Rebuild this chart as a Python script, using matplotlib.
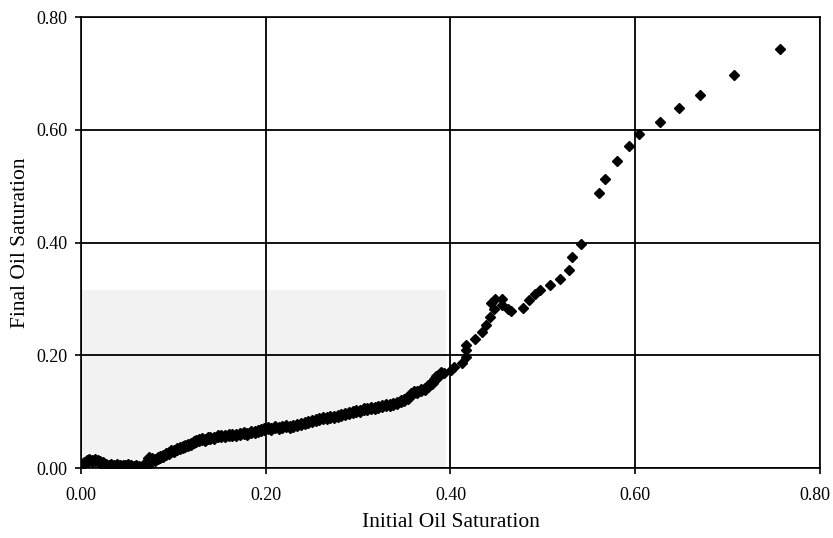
import numpy as np
import matplotlib
matplotlib.use("Agg")
import matplotlib.pyplot as plt
import matplotlib.transforms as mtransforms

# dense part of the curve (Soi < 0.4)
x_dense = [0.003, 0.006, 0.009, 0.012, 0.015, 0.018, 0.021, 0.024, 0.027, 0.030,
           0.033, 0.036, 0.039, 0.042, 0.045, 0.048, 0.051, 0.054, 0.057, 0.060,
           0.063, 0.066, 0.069, 0.072, 0.073, 0.074, 0.077, 0.080, 0.083, 0.086,
           0.089, 0.092, 0.095, 0.098, 0.101, 0.104, 0.107, 0.110, 0.113, 0.116,
           0.119, 0.122, 0.125, 0.128, 0.131, 0.134, 0.137, 0.140, 0.144, 0.148,
           0.152, 0.156, 0.160, 0.164, 0.168, 0.172, 0.176, 0.180, 0.184, 0.188,
           0.192, 0.195, 0.198, 0.202, 0.206, 0.210, 0.214, 0.218, 0.222, 0.226,
           0.230, 0.234, 0.238, 0.242, 0.246, 0.250, 0.254, 0.258, 0.262, 0.266,
           0.270, 0.274, 0.278, 0.282, 0.286, 0.290, 0.294, 0.298, 0.302, 0.306,
           0.310, 0.314, 0.318, 0.322, 0.326, 0.330, 0.334, 0.338, 0.342, 0.346,
           0.350, 0.354, 0.357, 0.360, 0.364, 0.368, 0.372, 0.376, 0.380, 0.383,
           0.386, 0.390]
y_dense = [0.008, 0.012, 0.014, 0.013, 0.015, 0.013, 0.011, 0.008, 0.006, 0.004,
           0.006, 0.004, 0.005, 0.003, 0.004, 0.003, 0.005, 0.003, 0.002, 0.004,
           0.002, 0.001, 0.002, 0.004, 0.012, 0.018, 0.016, 0.014, 0.017, 0.019,
           0.022, 0.024, 0.027, 0.030, 0.031, 0.034, 0.035, 0.038, 0.039, 0.041,
           0.043, 0.046, 0.048, 0.049, 0.051, 0.050, 0.053, 0.054, 0.053, 0.056,
           0.057, 0.056, 0.058, 0.059, 0.058, 0.061, 0.062, 0.061, 0.063, 0.064,
           0.066, 0.068, 0.070, 0.071, 0.070, 0.072, 0.071, 0.073, 0.074, 0.073,
           0.075, 0.076, 0.078, 0.080, 0.081, 0.083, 0.085, 0.087, 0.088, 0.089,
           0.090, 0.091, 0.093, 0.094, 0.096, 0.098, 0.100, 0.101, 0.102, 0.104,
           0.105, 0.107, 0.106, 0.108, 0.110, 0.111, 0.112, 0.114, 0.116, 0.118,
           0.120, 0.125, 0.131, 0.134, 0.135, 0.138, 0.141, 0.145, 0.150, 0.158,
           0.164, 0.168]

# sparse points (Soi > 0.38)
x_sparse = [0.381, 0.384, 0.393, 0.401, 0.404, 0.412, 0.417, 0.417, 0.417, 0.426,
            0.434, 0.438, 0.443, 0.447, 0.444, 0.448, 0.456, 0.456, 0.462, 0.466,
            0.478, 0.485, 0.491, 0.497, 0.508, 0.519, 0.528, 0.532, 0.541, 0.561,
            0.567, 0.580, 0.593, 0.604, 0.627, 0.647, 0.670, 0.707, 0.757]
y_sparse = [0.153, 0.164, 0.169, 0.174, 0.179, 0.187, 0.197, 0.209, 0.218, 0.228,
            0.241, 0.254, 0.268, 0.282, 0.292, 0.300, 0.300, 0.290, 0.282, 0.278,
            0.283, 0.298, 0.309, 0.315, 0.324, 0.336, 0.352, 0.375, 0.398, 0.488,
            0.513, 0.545, 0.571, 0.593, 0.614, 0.638, 0.662, 0.697, 0.743]

ticks = [0.0, 0.2, 0.4, 0.6, 0.8]

plt.rcParams['font.family'] = ['Liberation Serif', 'DejaVu Serif']

fig = plt.figure(figsize=(8.33, 5.38), dpi=100)
ax = fig.add_axes([0.0972, 0.1301, 0.8872, 0.8383])

# faint scan shading behind the low-saturation data
ax.axvspan(0.0, 0.395, ymin=0, ymax=0.315 / 0.8, color='#f2f2f2', zorder=0, lw=0)

ax.plot(x_dense, y_dense, 'D', color='black', markersize=6.5, zorder=3)
ax.plot(x_sparse, y_sparse, 'D', color='black', markersize=5, zorder=3)

ax.set_xlim(0, 0.8)
ax.set_ylim(0, 0.8)
ax.set_xticks(ticks)
ax.set_yticks(ticks)
ax.set_xticklabels(["%.2f" % t for t in ticks])
ax.set_yticklabels(["%.2f" % t for t in ticks])
ax.grid(True, color='black', linewidth=1.3, zorder=1)
ax.set_axisbelow(True)
for s in ax.spines.values():
    s.set_linewidth(1.2)
ax.tick_params(direction='out', length=4, width=1.2, labelsize=13)
ax.tick_params(axis='x', pad=10)
ax.tick_params(axis='y', pad=6)

# last x label sits right at the figure edge, nudge it in a bit
last = ax.get_xticklabels()[-1]
last.set_transform(last.get_transform() + mtransforms.ScaledTranslation(-4 / 72, 0, fig.dpi_scale_trans))

ax.set_xlabel("Initial Oil Saturation", fontsize=15.5, labelpad=6)
ax.set_ylabel("Final Oil Saturation", fontsize=15.5, labelpad=4)

plt.savefig("out.png", dpi=100)
